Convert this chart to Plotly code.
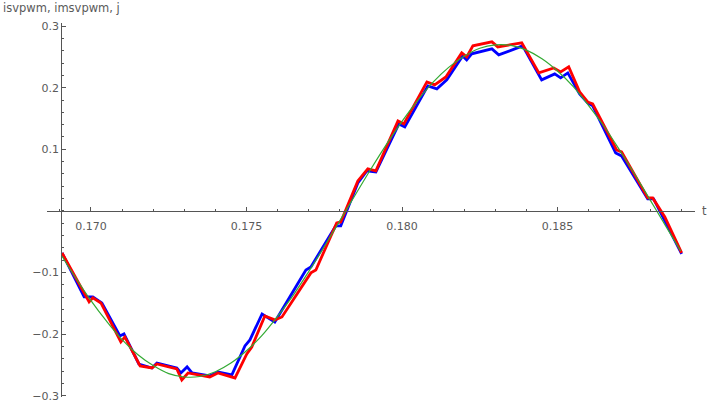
import plotly.graph_objects as go

# ---- data ----
t_blue = [0.16907, 0.16978, 0.17006, 0.17035, 0.17093, 0.17106, 0.17154, 0.17196, 0.17212,
          0.17276, 0.17289, 0.17309, 0.17325, 0.17382, 0.17408, 0.17453, 0.17495, 0.17511,
          0.17550, 0.17591, 0.17691, 0.17707, 0.17787, 0.17803, 0.17858, 0.17887, 0.17916,
          0.17990, 0.18009, 0.18083, 0.18112, 0.18144, 0.18195, 0.18208, 0.18224, 0.18289,
          0.18311, 0.18388, 0.18449, 0.18491, 0.18510, 0.18533, 0.18571, 0.18597, 0.18613,
          0.18687, 0.18706, 0.18790, 0.18809, 0.18899]
isvpwm = [-0.0682, -0.1396, -0.1396, -0.1494, -0.2029, -0.1997, -0.2484, -0.2549, -0.2468,
          -0.2549, -0.2630, -0.2532, -0.2630, -0.2679, -0.2614, -0.2662, -0.2192, -0.2094,
          -0.1672, -0.1802, -0.0958, -0.0909, -0.0244, -0.0244, 0.0455, 0.0649, 0.0633,
          0.1412, 0.1364, 0.2029, 0.1981, 0.2127, 0.2516, 0.2451, 0.2549, 0.2630,
          0.2532, 0.2679, 0.2127, 0.2224, 0.2159, 0.2240, 0.1899, 0.1753, 0.1705,
          0.0942, 0.0893, 0.0195, 0.0195, -0.0698]

t_red = [0.16907, 0.16994, 0.17006, 0.17032, 0.17096, 0.17109, 0.17158, 0.17196, 0.17212,
         0.17276, 0.17292, 0.17312, 0.17382, 0.17408, 0.17463, 0.17501, 0.17517, 0.17559,
         0.17591, 0.17614, 0.17707, 0.17723, 0.17790, 0.17803, 0.17858, 0.17890, 0.17916,
         0.17987, 0.18006, 0.18080, 0.18105, 0.18141, 0.18192, 0.18208, 0.18228, 0.18289,
         0.18308, 0.18385, 0.18440, 0.18488, 0.18510, 0.18536, 0.18571, 0.18597, 0.18613,
         0.18690, 0.18706, 0.18790, 0.18806, 0.18845, 0.18899]
imsvpwm = [-0.0682, -0.1477, -0.1412, -0.1494, -0.2127, -0.2045, -0.2516, -0.2549, -0.2484,
           -0.2565, -0.2744, -0.2630, -0.2695, -0.2630, -0.2711, -0.2321, -0.2208, -0.1705,
           -0.1769, -0.1721, -0.1006, -0.0958, -0.0195, -0.0179, 0.0487, 0.0682, 0.0649,
           0.1461, 0.1412, 0.2094, 0.2045, 0.2175, 0.2565, 0.2500, 0.2679, 0.2744,
           0.2662, 0.2727, 0.2240, 0.2321, 0.2256, 0.2338, 0.1932, 0.1769, 0.1737,
           0.0990, 0.0958, 0.0211, 0.0211, -0.0097, -0.0682]

t_green = [0.16907, 0.1695, 0.1700, 0.1705, 0.1710, 0.1715, 0.1720, 0.1725, 0.1730, 0.1735,
           0.1740, 0.1745, 0.1750, 0.1755, 0.1760, 0.1765, 0.1770, 0.1775, 0.1780, 0.1785,
           0.1790, 0.1795, 0.1800, 0.1805, 0.1810, 0.1815, 0.1820, 0.1825, 0.1830, 0.1835,
           0.1840, 0.1845, 0.1850, 0.1855, 0.1860, 0.1865, 0.1870, 0.1875, 0.1880, 0.1885,
           0.18896]
j = [-0.0735, -0.108, -0.1455, -0.179, -0.209, -0.233, -0.251, -0.264, -0.2695, -0.2687,
     -0.261, -0.247, -0.227, -0.202, -0.171, -0.137, -0.0985, -0.058, -0.016, 0.0263,
     0.068, 0.108, 0.1455, 0.179, 0.209, 0.233, 0.251, 0.264, 0.2695, 0.2687,
     0.261, 0.247, 0.227, 0.202, 0.171, 0.137, 0.0985, 0.058, 0.016, -0.0263,
     -0.065]

x_tick_vals = [0.170, 0.175, 0.180, 0.185]
x_tick_text = ["0.170", "0.175", "0.180", "0.185"]
y_tick_vals = [-0.3, -0.2, -0.1, 0.1, 0.2, 0.3]
y_tick_text = ["\u22120.3", "\u22120.2", "\u22120.1", "0.1", "0.2", "0.3"]
y_title = "isvpwm, imsvpwm, j"
x_title = "t"

# ---- layout constants ----
W, H = 709, 404
ML, MR, MT, MB = 47, 14, 23, 7
X_RANGE = [0.168586, 0.18942]
Y_RANGE = [-0.302, 0.305]
Y_AXIS_AT = 0.16904
AX_COL = "#555555"
TXT_COL = "#5a5a5a"
FONT = "DejaVu Sans"

fig = go.Figure()
fig.add_trace(go.Scatter(x=t_blue, y=isvpwm, mode="lines", name="isvpwm",
                         line=dict(color="#0000ff", width=2.8)))
fig.add_trace(go.Scatter(x=t_red, y=imsvpwm, mode="lines", name="imsvpwm",
                         line=dict(color="#ff0000", width=2.8)))
fig.add_trace(go.Scatter(x=t_green, y=j, mode="lines", name="j",
                         line=dict(color="#33aa33", width=1.2, shape="spline", smoothing=1.0)))

pw = W - ML - MR
ph = H - MT - MB
yaxis_pos = (Y_AXIS_AT - X_RANGE[0]) / (X_RANGE[1] - X_RANGE[0])
xaxis_pos = (0 - Y_RANGE[0]) / (Y_RANGE[1] - Y_RANGE[0])

fig.update_layout(
    width=W, height=H,
    margin=dict(l=ML, r=MR, t=MT, b=MB, pad=0, autoexpand=False),
    paper_bgcolor="white", plot_bgcolor="white",
    showlegend=False,
    hovermode=False,
    font=dict(family=FONT, size=11, color=TXT_COL),
    xaxis=dict(
        range=X_RANGE, anchor="free", position=xaxis_pos, automargin=False,
        showgrid=False, zeroline=False,
        showline=True, linecolor=AX_COL, linewidth=1,
        tickmode="array", tickvals=x_tick_vals, ticktext=x_tick_text,
        ticks="inside", ticklen=4, tickcolor=AX_COL, tickwidth=1,
        ticklabelstandoff=5,
        minor=dict(tickmode="linear", tick0=0.170, dtick=0.001, ticks="inside",
                   ticklen=2, tickcolor=AX_COL, tickwidth=1, showgrid=False),
        tickfont=dict(family=FONT, size=11, color=TXT_COL),
    ),
    yaxis=dict(
        range=Y_RANGE, anchor="free", position=yaxis_pos, automargin=False,
        showgrid=False, zeroline=False,
        showline=True, linecolor=AX_COL, linewidth=1,
        tickmode="array", tickvals=y_tick_vals, ticktext=y_tick_text,
        ticks="inside", ticklen=4, tickcolor=AX_COL, tickwidth=1,
        minor=dict(tickmode="linear", tick0=0.0, dtick=0.02, ticks="inside",
                   ticklen=2, tickcolor=AX_COL, tickwidth=1, showgrid=False),
        tickfont=dict(family=FONT, size=11, color=TXT_COL),
    ),
    annotations=[
        dict(text=y_title, xref="paper", yref="paper",
             x=-(ML - 1) / pw, y=1 + (MT - 8) / ph, xanchor="left", yanchor="middle",
             showarrow=False, font=dict(family=FONT, size=11.5, color=TXT_COL)),
        dict(text=x_title, xref="paper", yref="y",
             x=1 + 9 / pw, y=0.0, xanchor="center", yanchor="middle",
             showarrow=False, font=dict(family=FONT, size=11.5, color=TXT_COL)),
    ],
)

fig.write_html("out.html", config={"displayModeBar": False},
               post_script="document.body.style.margin='0px';document.body.style.overflow='hidden';")
